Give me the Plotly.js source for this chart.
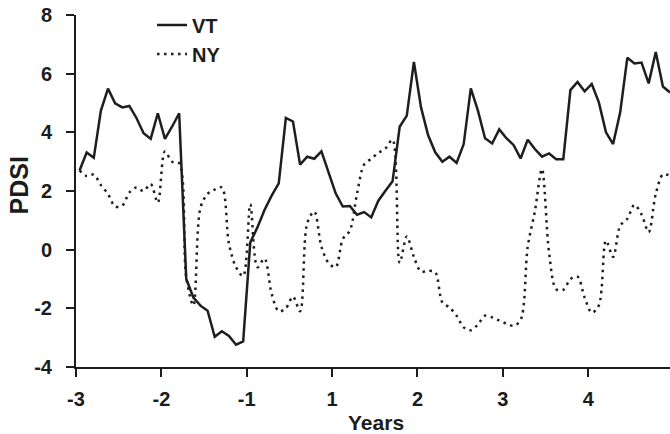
<!DOCTYPE html>
<html>
<head>
<meta charset="utf-8">
<script src="https://cdn.plot.ly/plotly-3.0.1.min.js"></script>
<style>html,body{margin:0;padding:0;background:#fff;}#chart{width:670px;height:434px;}</style>
</head>
<body>
<div id="chart"></div>
<script>
// Monthly PDSI values, 84 months (years -3 .. 4, no year 0)
const vtValues = [
  2.70, 3.31, 3.13, 4.74, 5.49, 4.99, 4.85, 4.90, 4.49, 3.97, 3.78, 4.65,
  3.78, 4.19, 4.65, -1.00, -1.63, -1.91, -2.08, -2.97, -2.78, -2.94, -3.24, -3.13,
  0.25, 0.76, 1.35, 1.84, 2.26, 4.49, 4.37, 2.90, 3.17, 3.10, 3.35, 2.64,
  1.92, 1.47, 1.49, 1.19, 1.28, 1.10, 1.67, 2.01, 2.33, 4.19, 4.57, 6.40,
  4.85, 3.90, 3.32, 3.00, 3.17, 2.96, 3.60, 5.50, 4.74, 3.80, 3.62, 4.10,
  3.80, 3.57, 3.11, 3.75, 3.43, 3.17, 3.28, 3.08, 3.08, 5.44, 5.72, 5.40,
  5.65, 5.02, 4.00, 3.60, 4.68, 6.54, 6.35, 6.38, 5.67, 6.74, 5.56, 5.36
];
const nyValues = [
  2.70, 2.51, 2.56, 2.20, 1.90, 1.47, 1.50, 1.95, 2.12, 2.00, 2.24, 1.60,
  3.35, 3.00, 2.95, -0.95, -1.90, 1.44, 1.90, 2.05, 2.12, 0.20, -0.60, -0.90,
  1.55, -0.60, -0.30, -1.50, -2.10, -2.00, -1.60, -2.10, 0.90, 1.30, 0.10, -0.45,
  -0.60, 0.36, 0.65, 1.90, 2.90, 3.10, 3.30, 3.45, 3.75, -0.45, 0.45, -0.25,
  -0.75, -0.72, -0.77, -1.80, -1.97, -2.25, -2.65, -2.75, -2.55, -2.25, -2.31, -2.42,
  -2.52, -2.59, -2.40, 0.10, 1.30, 2.75, -0.10, -1.35, -1.37, -1.00, -0.92, -1.63,
  -2.15, -1.90, 0.31, -0.25, 0.82, 1.05, 1.53, 1.20, 0.60, 1.90, 2.56, 2.52
];
const xTickMonths = [0, 12, 24, 36, 48, 60, 72];
const xTickLabels = ['-3', '-2', '-1', '1', '2', '3', '4'];
const yTickValues = [-4, -2, 0, 2, 4, 6, 8];
const yTickLabels = ['-4', '-2', '0', '2', '4', '6', '8'];
const seriesNames = ['VT', 'NY'];

const months = vtValues.map((_, i) => i + 0.5);
const FONT = 'Liberation Sans, Arial, Helvetica, sans-serif';
const INK = '#1c1c1c';

const traces = [
  {
    x: months, y: vtValues, name: seriesNames[0], type: 'scatter', mode: 'lines',
    line: {color: '#1e1e1e', width: 2.5}, legendgroup: 'a'
  },
  {
    x: months, y: nyValues, name: seriesNames[1], type: 'scatter', mode: 'lines',
    line: {color: '#1e1e1e', width: 2.5, dash: '2.5px,4.5px', shape: 'spline', smoothing: 0.9},
    legendgroup: 'b'
  }
];

const layout = {
  width: 670, height: 434,
  margin: {l: 76, r: 0, t: 15, b: 67},
  paper_bgcolor: '#ffffff', plot_bgcolor: '#ffffff',
  showlegend: true,
  legend: {
    x: 0.128, y: 1.027, xanchor: 'left', yanchor: 'top',
    bgcolor: 'rgba(0,0,0,0)', borderwidth: 0,
    traceorder: 'grouped', tracegroupgap: 0,
    font: {family: FONT, size: 20, color: INK, weight: 'bold'}
  },
  xaxis: {
    range: [0, 83.5], showgrid: false, zeroline: false,
    showline: true, linecolor: INK, linewidth: 2,
    ticks: 'outside', ticklen: 8, tickwidth: 2, tickcolor: INK,
    tickmode: 'array', tickvals: xTickMonths, ticktext: xTickLabels,
    ticklabelstandoff: 5,
    tickfont: {family: FONT, size: 20, color: INK, weight: 'bold'}
  },
  yaxis: {
    range: [-4, 8], showgrid: false, zeroline: false,
    showline: true, linecolor: INK, linewidth: 2,
    ticks: 'outside', ticklen: 8, tickwidth: 2, tickcolor: INK,
    tickmode: 'array', tickvals: yTickValues, ticktext: yTickLabels,
    ticklabelstandoff: 10,
    tickfont: {family: FONT, size: 20, color: INK, weight: 'bold'}
  },
  annotations: [
    {
      text: 'Years', xref: 'paper', yref: 'paper', x: 0.505, y: -0.159,
      xanchor: 'center', yanchor: 'middle', showarrow: false,
      font: {family: FONT, size: 21, color: INK, weight: 'bold'}
    },
    {
      text: 'PDSI', xref: 'paper', yref: 'paper', x: -0.096, y: 0.5156,
      xanchor: 'center', yanchor: 'middle', showarrow: false, textangle: -90,
      font: {family: FONT, size: 25, color: INK, weight: 'bold'}
    }
  ]
};

Plotly.newPlot('chart', traces, layout, {displayModeBar: false, staticPlot: true});
</script>
</body>
</html>
